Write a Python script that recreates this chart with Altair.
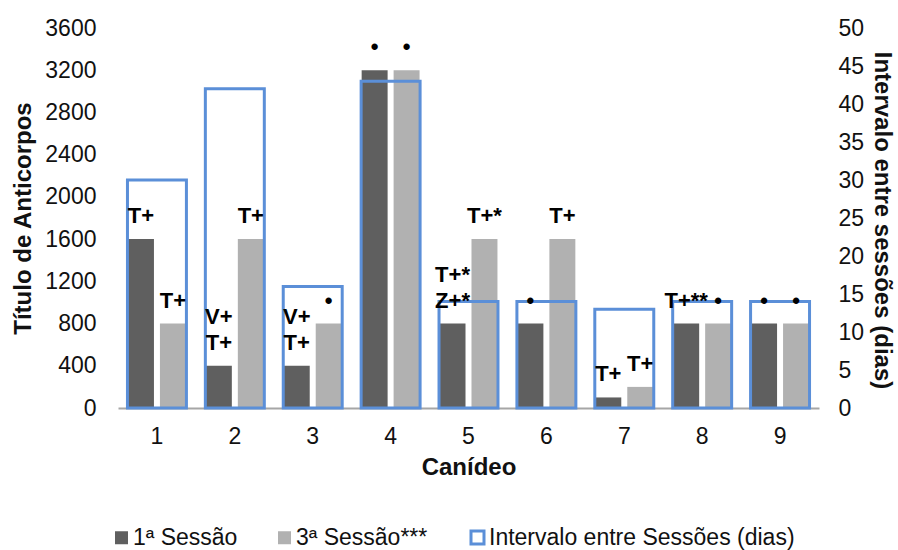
import altair as alt
import pandas as pd

canideos = ["1", "2", "3", "4", "5", "6", "7", "8", "9"]
sessao1 = [1600, 400, 400, 3200, 800, 800, 100, 800, 800]
sessao3 = [800, 1600, 800, 3200, 1600, 1600, 200, 800, 800]
intervalo = [30, 42, 16, 43, 14, 14, 13, 14, 14]
rotulos1 = ["T+", "V+\nT+", "V+\nT+", "•", "T+*\nZ+*", "•", "T+", "T+**", "•"]
rotulos3 = ["T+", "T+", "•", "•", "T+*", "T+", "T+", "•", "•"]

S1 = "1ª Sessão"
S3 = "3ª Sessão***"
INT = "Intervalo entre Sessões (dias)"

rows = []
for c, v1, v3, l1, l3 in zip(canideos, sessao1, sessao3, rotulos1, rotulos3):
    for s, v, l in ((S1, v1, l1), (S3, v3, l3)):
        parts = l.split("\n")
        rows.append({"canideo": c, "sessao": s, "valor": v,
                     "inferior": parts[-1],
                     "superior": parts[0] if len(parts) > 1 else ""})
bars_df = pd.DataFrame(rows)
box_df = pd.DataFrame({"canideo": canideos, "intervalo": intervalo, "serie": [INT] * len(canideos)})

FONT = "Liberation Sans"
TXT = "#111111"
xscale = alt.Scale(paddingInner=0, paddingOuter=0)
offscale = alt.Scale(domain=[S1, S3], paddingInner=0.1875, paddingOuter=0.3125)
yleft = alt.Scale(domain=[0, 3600], nice=False)

x_enc = alt.X("canideo:O", scale=xscale, sort=canideos,
              axis=alt.Axis(title="Canídeo", labelAngle=0, labelFontSize=23, labelPadding=17,
                            ticks=False, domainColor="#a6a6a6", domainWidth=2,
                            titleFontSize=24, titleFontWeight="bold", titleY=59,
                            titleBaseline="middle", labelColor=TXT, titleColor=TXT))

bars = alt.Chart(bars_df).mark_bar().encode(
    x=x_enc,
    xOffset=alt.XOffset("sessao:N", scale=offscale),
    y=alt.Y("valor:Q", scale=yleft,
            axis=alt.Axis(title="Título de Anticorpos", values=list(range(0, 3601, 400)),
                          format="d", orient="left", domain=False, ticks=False, grid=False,
                          labelFontSize=23, labelPadding=22, titleFontSize=24,
                          titleFontWeight="bold", titleX=-95, titleY=190, titleAngle=270,
                          titleAlign="center", titleBaseline="middle",
                          labelColor=TXT, titleColor=TXT)),
    color=alt.Color("sessao:N", scale=alt.Scale(domain=[S1, S3], range=["#5f5f5f", "#b1b1b1"]),
                    legend=alt.Legend(orient="none", legendX=-8, legendY=498, direction="horizontal",
                                      title=None, symbolType="square", symbolSize=169,
                                      labelFontSize=23, columnPadding=35, labelOffset=0,
                                      symbolStrokeWidth=0, labelColor=TXT, labelLimit=400)),
)

boxes = alt.Chart(box_df).mark_bar(width=alt.RelativeBandSize(0.757), fill="transparent",
                                   strokeWidth=3).encode(
    x=alt.X("canideo:O", scale=xscale, sort=canideos),
    y=alt.Y("intervalo:Q", scale=alt.Scale(domain=[0, 50], nice=False),
            axis=alt.Axis(title="Intervalo entre sessões (dias)", values=list(range(0, 51, 5)),
                          orient="right", domain=False, ticks=False, grid=False,
                          labelFontSize=23, labelPadding=19, titleFontSize=24,
                          titleFontWeight="bold", titleX=62, titleY=192, titleAngle=90,
                          titleAlign="center", titleBaseline="middle",
                          labelColor=TXT, titleColor=TXT)),
    stroke=alt.Stroke("serie:N", scale=alt.Scale(domain=[INT], range=["#5b8fd8"]),
                      legend=alt.Legend(orient="none", legendX=348, legendY=498, title=None,
                                        symbolType="square", symbolSize=169,
                                        symbolFillColor="white", symbolStrokeWidth=3,
                                        labelFontSize=23, labelOffset=0, labelColor=TXT,
                                        labelLimit=500)),
)

text_base = dict(baseline="bottom", align="center", fontSize=22, fontWeight="bold", color="black")
enc = dict(
    x=alt.X("canideo:O", scale=xscale, sort=canideos),
    xOffset=alt.XOffset("sessao:N", scale=offscale),
    y=alt.Y("valor:Q", scale=yleft, axis=None),
)
texts_low = alt.Chart(bars_df).mark_text(dy=-11, **text_base).encode(text="inferior:N", **enc)
texts_up = alt.Chart(bars_df).mark_text(dy=-37, **text_base).encode(text="superior:N", **enc)

chart = alt.layer(bars, boxes, texts_low, texts_up).resolve_scale(y="independent").properties(
    width=701, height=380,
    autosize=alt.AutoSizeParams(type="none"),
    padding={"left": 118, "top": 28, "right": 79, "bottom": 142},
).configure(font=FONT).configure_view(stroke=None)

chart.save("out.html", embed_options={"renderer": "svg", "actions": False})
